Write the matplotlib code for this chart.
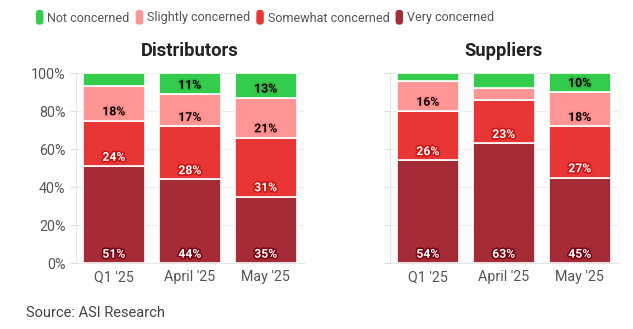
import matplotlib
matplotlib.use("Agg")
import matplotlib.pyplot as plt
import matplotlib.patheffects as pe
from matplotlib.patches import FancyBboxPatch
from matplotlib.legend_handler import HandlerPatch
import matplotlib.patches as mpatches
import numpy as np

plt.rcParams['font.family'] = ['Roboto', 'DejaVu Sans']

periods = ["Q1 '25", "April '25", "May '25"]
levels = ['Very concerned', 'Somewhat concerned', 'Slightly concerned', 'Not concerned']

# shares per period, bottom segment first
distributors = {
    'Very concerned': [51, 44, 35],
    'Somewhat concerned': [24, 28, 31],
    'Slightly concerned': [18, 17, 21],
    'Not concerned': [7, 11, 13],
}
suppliers = {
    'Very concerned': [54, 63, 45],
    'Somewhat concerned': [26, 23, 27],
    'Slightly concerned': [16, 6, 18],
    'Not concerned': [4, 8, 10],
}

colors = {
    'Not concerned': '#33cc4d',
    'Slightly concerned': '#ff9595',
    'Somewhat concerned': '#e83535',
    'Very concerned': '#a52c36',
}
text_style = {
    'Not concerned': ('black', '#2fb844'),
    'Slightly concerned': ('black', '#ff8a8a'),
    'Somewhat concerned': ('white', '#cc1111'),
    'Very concerned': ('white', '#7a0010'),
}

grey = '#555555'
fig = plt.figure(figsize=(6.33, 3.29), dpi=100)
ax1 = fig.add_axes([0.120, 0.2006, 0.360, 0.5775])
ax2 = fig.add_axes([0.616, 0.2006, 0.360, 0.5775])


def draw_panel(ax, data, title, show_labels):
    x = np.arange(len(periods))
    bottom = np.zeros(len(periods))
    for lvl in levels:
        vals = np.array(data[lvl], dtype=float) / 100
        ax.bar(x, vals, 0.82, bottom=bottom, color=colors[lvl],
               edgecolor='white', linewidth=1.2, zorder=3)
        fc, sc = text_style[lvl]
        for xi, b, v in zip(x, bottom, vals):
            if v >= 0.095:
                ax.text(xi, b + 0.012, f'{round(v * 100)}%', ha='center', va='bottom',
                        fontsize=8.8, fontweight='bold', color=fc, zorder=4,
                        path_effects=[pe.withStroke(linewidth=2.2, foreground=sc)])
        bottom += vals
    ax.set_xlim(-0.5, 2.5)
    ax.set_ylim(0, 1)
    ax.set_xticks(x)
    ax.set_xticklabels(periods)
    ax.set_yticks(np.arange(0, 1.01, 0.2))
    if show_labels:
        ax.set_yticklabels([f'{int(t * 100)}%' for t in np.arange(0, 1.01, 0.2)])
    else:
        ax.set_yticklabels([])
    ax.grid(axis='y', color='#ebebeb', linewidth=0.8, zorder=0)
    for s in ['top', 'right']:
        ax.spines[s].set_visible(False)
    for s in ['left', 'bottom']:
        ax.spines[s].set_color('#e6e6e6')
    ax.tick_params(axis='both', colors='#dddddd', labelcolor=grey, labelsize=10.3, length=4)
    ax.tick_params(axis='x', length=0, pad=5)
    ax.set_title(title, fontsize=13.2, fontweight='bold', color='#222222', pad=12)


draw_panel(ax1, distributors, 'Distributors', True)
draw_panel(ax2, suppliers, 'Suppliers', False)


class RoundHandler(HandlerPatch):
    def create_artists(self, legend, orig_handle, xdescent, ydescent, width, height, fontsize, trans):
        p = FancyBboxPatch((-xdescent, -ydescent - 1), width, height + 2,
                           boxstyle='round,pad=0,rounding_size=2.5',
                           facecolor=orig_handle.get_facecolor(), edgecolor='none', transform=trans)
        return [p]


order = ['Not concerned', 'Slightly concerned', 'Somewhat concerned', 'Very concerned']
handles = [mpatches.Patch(facecolor=colors[k]) for k in order]
fig.legend(handles, order, loc='upper left', bbox_to_anchor=(0.039, 1.0), ncol=4,
           frameon=False, fontsize=9.0, labelcolor=grey, handlelength=0.6, handleheight=1.1,
           handletextpad=0.3, columnspacing=0.5,
           handler_map={mpatches.Patch: RoundHandler()})

fig.text(0.041, 0.05, 'Source: ASI Research', fontsize=10.5, color='#444444', va='center')

fig.savefig('out.png', dpi=100)
